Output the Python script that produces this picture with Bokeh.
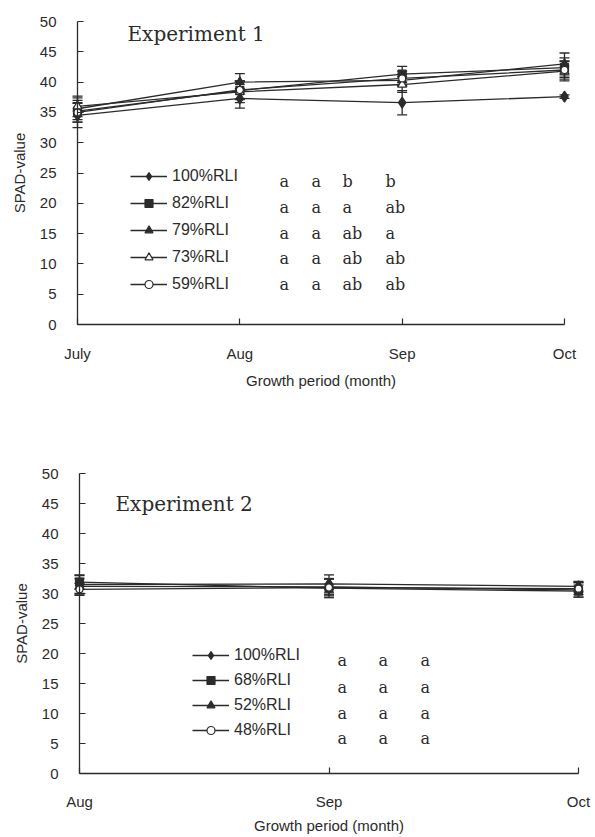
from bokeh.plotting import figure
from bokeh.models import (Range1d, FixedTicker, SingleIntervalTicker, Legend, LegendItem,
                          Whisker, ColumnDataSource, Label, TeeHead)
from bokeh.layouts import column
from bokeh.embed import file_html
from bokeh.resources import INLINE
from bokeh.core.properties import value

# ---------------- data ----------------
months1 = ["July", "Aug", "Sep", "Oct"]
names1 = ["100%RLI", "82%RLI", "79%RLI", "73%RLI", "59%RLI"]
spad1_100 = [34.5, 37.3, 36.6, 37.6]
spad1_82 = [35.2, 38.6, 41.3, 42.4]
spad1_79 = [35.6, 40.0, 40.3, 43.0]
spad1_73 = [36.0, 38.4, 39.6, 41.8]
spad1_59 = [35.0, 38.7, 40.6, 42.0]
err1_100 = [2.0, 1.6, 2.0, 0.3]
err1_82 = [1.8, 1.5, 1.3, 1.6]
err1_79 = [1.8, 1.4, 1.0, 1.8]
err1_73 = [1.7, 1.8, 1.3, 1.6]
err1_59 = [1.6, 1.5, 1.2, 1.5]
letters1_100 = ["a", "a", "b", "b"]
letters1_82 = ["a", "a", "a", "ab"]
letters1_79 = ["a", "a", "ab", "a"]
letters1_73 = ["a", "a", "ab", "ab"]
letters1_59 = ["a", "a", "ab", "ab"]

months2 = ["Aug", "Sep", "Oct"]
names2 = ["100%RLI", "68%RLI", "52%RLI", "48%RLI"]
spad2_100 = [31.5, 31.6, 31.2]
spad2_68 = [31.9, 30.9, 30.4]
spad2_52 = [31.2, 31.1, 30.6]
spad2_48 = [30.7, 31.0, 30.8]
err2_100 = [1.5, 1.5, 0.8]
err2_68 = [1.2, 1.6, 1.0]
err2_52 = [1.3, 1.3, 1.2]
err2_48 = [1.0, 1.4, 1.0]
letters2_100 = ["a", "a", "a"]
letters2_68 = ["a", "a", "a"]
letters2_52 = ["a", "a", "a"]
letters2_48 = ["a", "a", "a"]

# --------------- style ----------------
INK = "#2b2b2b"
SANS = "Liberation Sans"
SERIF = "DejaVu Serif"
markers1 = [("diamond", True, 11), ("square", True, 8), ("triangle", True, 9),
            ("triangle", False, 9), ("circle", False, 7)]
markers2 = [("diamond", True, 11), ("square", True, 8), ("triangle", True, 9),
            ("circle", False, 7)]

W = 592
MB = 1  # tiny border: both axes are pinned inside the frame at x=0 / y=0


def make_panel(months, names, series, errors, letters, title, markers, height,
               x_px0, x_px_last, y_px0, y_px50, title_px, letter_px_x, letter_px_y,
               legend_top_left, legend_spacing, tick_standoff, title_standoff):
    n = len(months) - 1
    fl, fr, ft, fb = MB, W - MB, MB, height - MB          # frame edges
    pxu = (x_px_last - x_px0) / n                           # px per month
    pyu = (y_px0 - y_px50) / 50.0                           # px per SPAD unit
    x_start = -(x_px0 - fl) / pxu
    x_end = n + (fr - x_px_last) / pxu
    y_start = -(fb - y_px0) / pyu
    y_end = 50 + (y_px50 - ft) / pyu

    def dx(px):
        return (px - x_px0) / pxu

    def dy(py):
        return (y_px0 - py) / pyu

    p = figure(width=W, height=height, output_backend="svg", toolbar_location=None,
               x_range=Range1d(x_start, x_end), y_range=Range1d(y_start, y_end),
               min_border_left=MB, min_border_right=MB,
               min_border_top=MB, min_border_bottom=MB)
    p.outline_line_color = None
    p.xgrid.visible = False
    p.ygrid.visible = False
    p.background_fill_color = "white"

    # axes (pinned at the data origin)
    xa = p.xaxis[0]
    xa.ticker = FixedTicker(ticks=list(range(len(months))))
    xa.major_label_overrides = {i: m for i, m in enumerate(months)}
    xa.bounds = (0, n)
    xa.fixed_location = 0
    xa.axis_label = "Growth period (month)"
    xa.major_label_standoff = tick_standoff
    xa.axis_label_standoff = title_standoff
    ya = p.yaxis[0]
    ya.ticker = SingleIntervalTicker(interval=5)
    ya.bounds = (0, 50)
    ya.fixed_location = 0
    ya.axis_label = "SPAD-value"
    ya.major_label_standoff = 17
    ya.axis_label_standoff = 9
    for ax in (xa, ya):
        ax.axis_line_color = INK
        ax.axis_line_width = 1.3
        ax.major_tick_line_color = INK
        ax.major_tick_line_width = 1.2
        ax.major_tick_in = 6
        ax.major_tick_out = 0
        ax.minor_tick_line_color = None
        ax.major_label_text_font = SANS
        ax.major_label_text_font_size = "15px"
        ax.major_label_text_color = INK
        ax.axis_label_text_font = SANS
        ax.axis_label_text_font_size = "15px"
        ax.axis_label_text_font_style = "normal"
        ax.axis_label_text_color = INK

    xs = list(range(len(months)))
    items = []
    for name, ys, es, (mk, filled, size) in zip(names, series, errors, markers):
        src = ColumnDataSource(dict(x=xs, y=ys,
                                    upper=[a + b for a, b in zip(ys, es)],
                                    lower=[a - b for a, b in zip(ys, es)]))
        w = Whisker(base="x", upper="upper", lower="lower", source=src,
                    line_color=INK, line_width=1.3,
                    upper_head=TeeHead(size=10, line_color=INK, line_width=1.3),
                    lower_head=TeeHead(size=10, line_color=INK, line_width=1.3))
        p.add_layout(w)
        lr = p.line("x", "y", source=src, line_color=INK, line_width=1.3)
        sr = p.scatter("x", "y", source=src, marker=mk, size=size,
                       line_color=INK, line_width=1.2,
                       fill_color=INK if filled else "white")
        items.append(LegendItem(label=name, renderers=[lr, sr]))

    rows = len(names)
    leg_h = rows * 20 + (rows - 1) * legend_spacing
    lx0, ly0 = legend_top_left
    legend = Legend(items=items, location=(lx0 - fl, fb - (ly0 + leg_h)),
                    glyph_width=37, glyph_height=20,
                    label_height=20, spacing=legend_spacing, padding=0, margin=0,
                    label_standoff=5, border_line_alpha=0, background_fill_alpha=0,
                    label_text_font=SANS, label_text_font_size="16px",
                    label_text_color=INK)
    p.add_layout(legend)

    # significance letters
    lx, ly, lt = [], [], []
    for row, lets in enumerate(letters):
        for col, t in enumerate(lets):
            lx.append(dx(letter_px_x[col]))
            ly.append(dy(letter_px_y[row]))
            lt.append(t)
    p.text(x=lx, y=ly, text=lt, text_font=value(SERIF), text_font_size=value("16px"),
           text_color=INK, text_baseline="middle", text_align="left")

    p.add_layout(Label(x=dx(title_px[0]), y=dy(title_px[1]), text=title, text_font=SERIF,
                       text_font_size="20px", text_color=INK, text_baseline="middle"))
    return p


H1 = 394
p1 = make_panel(months1, names1,
                [spad1_100, spad1_82, spad1_79, spad1_73, spad1_59],
                [err1_100, err1_82, err1_79, err1_73, err1_59],
                [letters1_100, letters1_82, letters1_79, letters1_73, letters1_59],
                "Experiment 1", markers1, H1,
                77, 564, 324, 21, (127, 33),
                (279, 311, 342, 385), (181, 207, 233, 258, 284),
                (130, 166), 7, 20, 7)

H2 = 443
OFF = H1  # the second figure starts at this page y
p2 = make_panel(months2, names2,
                [spad2_100, spad2_68, spad2_52, spad2_48],
                [err2_100, err2_68, err2_52, err2_48],
                [letters2_100, letters2_68, letters2_52, letters2_48],
                "Experiment 2", markers2, H2,
                79, 578, 773 - OFF, 473 - OFF, (115, 503 - OFF),
                (337, 378, 420), (660 - OFF, 687 - OFF, 713 - OFF, 738 - OFF),
                (192, 645 - OFF), 5, 19, 4)

layout = column(p1, p2, spacing=0)
open("out.html", "w").write(file_html(layout, INLINE))
